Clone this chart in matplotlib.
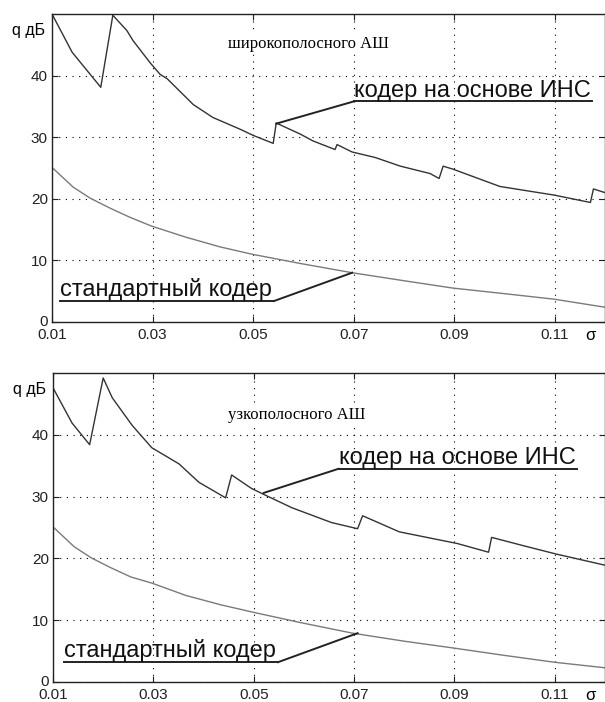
import matplotlib
matplotlib.use("Agg")
import matplotlib.pyplot as plt
from matplotlib import transforms

plt.rcParams['font.family'] = ['Liberation Sans', 'DejaVu Sans']

# --- data ---
# upper panel: wideband noise
sig_ann_wide = [0.0100, 0.0140, 0.0197, 0.0221, 0.0249, 0.0261, 0.0295, 0.0315, 0.0329,
                0.0381, 0.0420, 0.0474, 0.0500, 0.0540, 0.0546, 0.0594, 0.0619, 0.0663,
                0.0667, 0.0697, 0.0743, 0.0793, 0.0852, 0.0870, 0.0878, 0.0898, 0.0991,
                0.1099, 0.1171, 0.1177, 0.1200]
q_ann_wide = [50.0, 43.8, 38.1, 49.8, 47.3, 45.7, 42.1, 40.2, 39.5,
              35.3, 33.2, 31.3, 30.3, 29.0, 32.3, 30.5, 29.4, 28.0,
              28.8, 27.6, 26.7, 25.3, 24.1, 23.3, 25.3, 24.8, 22.0,
              20.6, 19.4, 21.6, 21.0]

sig_std = [0.0100, 0.0142, 0.0176, 0.0215, 0.0255, 0.0297, 0.0365, 0.0434, 0.0498,
           0.0594, 0.0697, 0.0800, 0.0898, 0.1000, 0.1099, 0.1200]
q_std_wide = [25.1, 21.9, 20.1, 18.5, 17.0, 15.6, 13.8, 12.2, 11.0,
              9.5, 8.0, 6.7, 5.5, 4.6, 3.7, 2.4]

# lower panel: narrowband noise
sig_ann_narrow = [0.0100, 0.0138, 0.0173, 0.0200, 0.0218, 0.0258, 0.0297, 0.0351, 0.0391,
                  0.0444, 0.0456, 0.0496, 0.0524, 0.0576, 0.0655, 0.0707, 0.0717, 0.0790,
                  0.0906, 0.0968, 0.0974, 0.1040, 0.1103, 0.1200]
q_ann_narrow = [47.6, 41.9, 38.4, 49.2, 46.0, 41.5, 37.9, 35.3, 32.3,
                29.8, 33.5, 31.3, 30.2, 28.2, 25.8, 24.8, 26.9, 24.3,
                22.4, 21.0, 23.4, 22.0, 20.7, 18.9]
q_std_narrow = [25.1, 21.9, 20.1, 18.5, 17.0, 16.0, 14.0, 12.5, 11.3,
                9.6, 7.9, 6.6, 5.5, 4.3, 3.2, 2.3]

xticks = [0.01, 0.03, 0.05, 0.07, 0.09, 0.11]
xticklabels = ["0.01", "0.03", "0.05", "0.07", "0.09", "0.11"]
yticks = [0, 10, 20, 30, 40]

panels = [
    dict(ann=(sig_ann_wide, q_ann_wide), std=(sig_std, q_std_wide),
         title="широкополосного АШ", title_xy=(0.0451, 45.2),
         ann_txt=(0.0700, 35.8), ann_tgt=(0.0546, 32.2),
         std_txt=(0.0116, 3.4), std_tgt=(0.0697, 8.0),
         rect=[52 / 605, 1 - 322 / 702, 553 / 605, 308 / 702]),
    dict(ann=(sig_ann_narrow, q_ann_narrow), std=(sig_std, q_std_narrow),
         title="узкополосного АШ", title_xy=(0.0448, 43.2),
         ann_txt=(0.0669, 34.5), ann_tgt=(0.0520, 30.6),
         std_txt=(0.0122, 3.2), std_tgt=(0.0707, 7.9),
         rect=[53 / 605, 1 - 682 / 702, 552 / 605, 309 / 702]),
]

fig = plt.figure(figsize=(6.05, 7.02), dpi=100)


def underlined(ax, txt, pos, target, leader_left):
    # text sits a few px above its underline, leader goes to the curve
    tr = transforms.offset_copy(ax.transData, fig=fig, x=0, y=3.5, units='points')
    t = ax.text(pos[0], pos[1], txt, transform=tr, fontsize=17,
                ha='left', va='baseline', color='#111111')
    fig.canvas.draw()
    bb = t.get_window_extent()
    inv = ax.transData.inverted()
    x0 = inv.transform((bb.x0, 0))[0]
    x1 = inv.transform((bb.x1 + 2, 0))[0]
    ax.plot([x0, x1], [pos[1], pos[1]], color='#222222', lw=1.4, clip_on=False)
    if leader_left:
        ax.plot([x0, target[0]], [pos[1], target[1]], color='#222222', lw=1.4)
    else:
        ax.plot([x1, target[0]], [pos[1], target[1]], color='#222222', lw=1.4)


for p in panels:
    ax = fig.add_axes(p["rect"])
    ax.plot(p["std"][0], p["std"][1], color='#7a7a7a', lw=1.0)
    ax.plot(p["ann"][0], p["ann"][1], color='#333333', lw=1.0)
    ax.set_xlim(0.01, 0.12)
    ax.set_ylim(0, 50)
    ax.set_xticks(xticks)
    ax.set_xticklabels(xticklabels)
    ax.set_yticks(yticks)
    ax.tick_params(direction='in', length=4, width=0.8, top=True, right=True,
                   labelsize=11, colors='#222222')
    ax.tick_params(axis='x', pad=4)
    ax.tick_params(axis='y', pad=3)
    # lift the "0" label a little, as in the original
    zero = ax.get_yticklabels()[0]
    zero.set_transform(zero.get_transform() + transforms.ScaledTranslation(0, 2 / 100, fig.dpi_scale_trans))
    ax.grid(True, color='black', linestyle=(0, (1, 5)), lw=0.8)
    for s in ax.spines.values():
        s.set_linewidth(1.0)
        s.set_color('#222222')
    ax.text(p["title_xy"][0], p["title_xy"][1], p["title"], fontsize=12,
            family=['Liberation Serif', 'DejaVu Serif'], va='center', ha='left',
            bbox=dict(facecolor='white', edgecolor='none', pad=2))
    ax.text(-0.012, 0.948, "q дБ", transform=ax.transAxes, fontsize=11.5,
            ha='right', va='center')
    ax.annotate("σ", xy=(0.973, 0), xycoords='axes fraction',
                xytext=(0, -13), textcoords='offset pixels',
                fontsize=12, ha='center', va='center')
    underlined(ax, "кодер на основе ИНС", p["ann_txt"], p["ann_tgt"], True)
    underlined(ax, "стандартный кодер", p["std_txt"], p["std_tgt"], False)

fig.savefig("out.png", dpi=100)
